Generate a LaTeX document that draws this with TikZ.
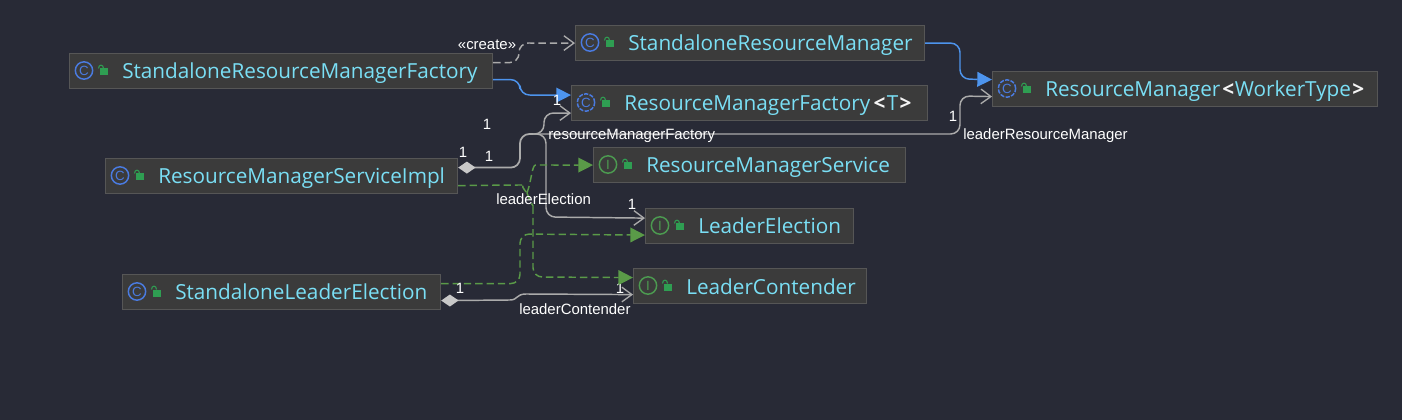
\documentclass[tikz,border=0pt]{standalone}
\usepackage{fontspec}
\setmainfont{Liberation Sans}
\newfontfamily\namefont{Open Sans}
\usetikzlibrary{calc,arrows.meta,shapes.geometric,positioning}
\definecolor{bgdark}{HTML}{282A36}
\definecolor{boxfill}{HTML}{3B3B3B}
\definecolor{boxline}{HTML}{565656}
\definecolor{nametext}{HTML}{7ADFF5}
\definecolor{gentext}{HTML}{F4F4F4}
\definecolor{iconblue}{HTML}{4A7BE0}
\definecolor{icongreen}{HTML}{4C9A50}
\definecolor{lockgreen}{HTML}{2F9E52}
\definecolor{extblue}{HTML}{4D94EE}
\definecolor{implgreen}{HTML}{5A9A48}
\definecolor{refgray}{HTML}{ABABAB}
\definecolor{diamondgray}{HTML}{C8C8C8}
\tikzset{
  x=0.75pt, y=-0.75pt,
  classbox/.style={draw=boxline, fill=boxfill, line width=0.9pt, anchor=north west, inner sep=0pt, minimum height=26.25pt},
  classname/.style={anchor=base west, inner sep=0pt, text=nametext, font=\namefont\fontsize{15.55}{17}\selectfont},
  classicon/.style={circle, draw=iconblue, line width=1.1pt, text=iconblue, minimum size=13pt, inner sep=0pt, font=\fontsize{10}{10}\selectfont},
  abstracticon/.style={classicon, dash pattern=on 3.2pt off 1pt},
  ifaceicon/.style={classicon, draw=icongreen, text=icongreen},
  lbl/.style={text=white, inner sep=0pt, font=\fontsize{11.2}{13}\selectfont},
  refline/.style={draw=refgray, line width=1.1pt, rounded corners=7pt},
  opentip/.style={refline, -{Straight Barb[length=7.5pt,width=11pt,line width=1pt]}},
  comptip/.style={refline, line width=1.3pt, {Diamond[length=13pt,width=9pt,color=diamondgray]}-},
  compopen/.style={draw=refgray, line width=1.1pt, {Diamond[length=13pt,width=9pt,color=diamondgray]}-{Straight Barb[length=7.5pt,width=11pt,line width=1pt]}},
  createline/.style={opentip, dash pattern=on 5.5pt off 3pt},
  extline/.style={draw=extblue, line width=1.1pt, rounded corners=7pt, -{Triangle[length=11pt,width=11pt]}},
  implline/.style={draw=implgreen, line width=1.1pt, rounded corners=7pt, dash pattern=on 5.5pt off 3pt},
  implarrow/.style={implline, -{Triangle[length=11pt,width=11pt,fill=implgreen]}},
}
% name, x, y, width, icon style, icon letter, text
\newcommand{\classnode}[7]{
  \begin{scope}[shift={(#2,#3)}]
    \node[classbox, minimum width=#4*0.75pt] (#1) at (0,0) {};
    \node[#5] (#1-icon) at (15,17.5) {#6};
    \fill[lockgreen] (31,15.5) rectangle (39,22.5);
    \draw[lockgreen, line width=0.8pt] (29.5,15.5) .. controls (29.5,11) and (34.5,11) .. (34.5,15.5);
    \node[classname] (#1-name) at (53,26) {#7};
  \end{scope}
}
\newcommand{\gen}[1]{{\color{gentext}\bfseries #1}}

\begin{document}
\begin{tikzpicture}
    \useasboundingbox[fill=bgdark] (0,0) rectangle (1402,420);

    \classnode{F1}{69}{53}{423}{classicon}{C}{StandaloneResourceManagerFactory}
    \classnode{M1}{575}{25}{349}{classicon}{C}{StandaloneResourceManager}
    \classnode{RF}{571}{85}{356}{abstracticon}{C}{ResourceManagerFactory\,\gen{<}\kern1ptT\kern1pt\gen{>}}
    \classnode{RM}{992}{71}{385}{abstracticon}{C}{ResourceManager\kern1.5pt\gen{<}\kern0.5ptWorkerType\kern1pt\gen{>}}
    \classnode{S1}{105}{158}{352}{classicon}{C}{ResourceManagerServiceImpl}
    \classnode{RS}{593}{147}{312}{ifaceicon}{I}{ResourceManagerService}
    \classnode{LE}{645}{208}{208}{ifaceicon}{I}{LeaderElection}
    \classnode{LC}{633}{268}{233}{ifaceicon}{I}{LeaderContender}
    \classnode{SL}{122}{274}{318}{classicon}{C}{StandaloneLeaderElection}

    \node[lbl] (n1) at (620,288) {1};

    \coordinate (rjoin) at (533,134);
    \coordinate (ijoin) at (527,193);

    \path[createline] ($(F1.east)+(0,-8.5)$) -| (519,43) -- (M1.west);
    \path[extline] ($(F1.east)+(0,8.5)$) -| (520,95) -- ($(RF.west)+(0,-8)$);
    \path[extline] (M1.east) -| (960,79) -- ($(RM.west)+(0,-9.5)$);

    \path[comptip] ($(S1.east)+(0,-8.5)$) -| (520,134) -- (rjoin);
    \path[opentip] (rjoin) -| (544,113) -- ($(RF.west)+(0,10)$);
    \path[opentip] (rjoin) -| (960,96) -- ($(RM.west)+(0,7.5)$);
    \path[opentip] (rjoin) -| (546,217) -- ($(LE.west)+(0,-8)$);

    \path[implline] ($(S1.east)+(0,9.5)$) -- (515,185) to[out=0,in=130] (ijoin);
    \path[implarrow] (ijoin) to[out=70,in=180] (545,165) -- (RS.west);
    \path[implarrow] (ijoin) to[out=-70,in=90] (533,215) -| (533,277) -- ($(LC.west)+(0,-8.5)$);
    \path[implarrow] ($(SL.east)+(0,-8.5)$) -| (520,234) -- ($(LE.west)+(0,9)$);

    \path[compopen] ($(SL.east)+(0,8.5)$) -- (510,300) .. controls (518,300) and (516,294) .. (526,294) -- ($(LC.west)+(0,8.5)$);

    \node[lbl] (c1) at (487,45) {«create»};
    \node[lbl] (n2) at (487,124) {1};
    \node[lbl] (n3) at (463,152) {1};
    \node[lbl] (n4) at (489,156) {1};
    \node[lbl] (n5) at (557,100) {1};
    \node[lbl, anchor=west] (l1) at (548,136) {resourceManagerFactory};
    \node[lbl] (n6) at (953,116) {1};
    \node[lbl, anchor=west] (l2) at (963,136) {leaderResourceManager};
    \node[lbl, anchor=west] (l3) at (496,199) {leaderElection};
    \node[lbl] (n7) at (632,204) {1};
    \node[lbl] (n8) at (460,288) {1};
    \node[lbl, anchor=west] (l4) at (519,309) {leaderContender};
\end{tikzpicture}
\end{document}
